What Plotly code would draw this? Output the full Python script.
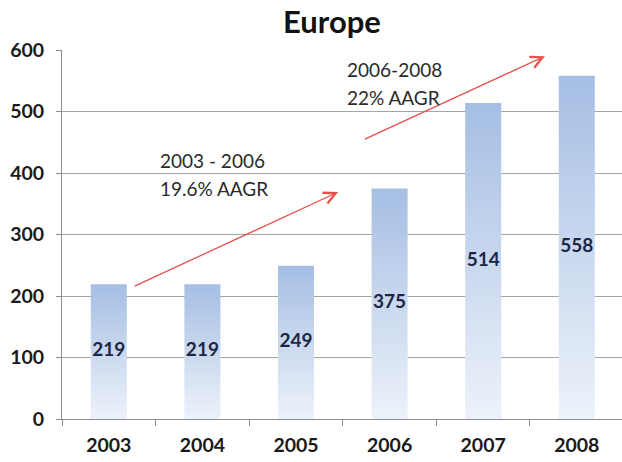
import plotly.graph_objects as go

# Europe: yearly totals
years = ["2003", "2004", "2005", "2006", "2007", "2008"]
values = [219, 219, 249, 375, 514, 558]

# Growth callouts, one line each
growth_lines = [
    ("2003 - 2006", "19.6% AAGR"),
    ("2006-2008", "22% AAGR"),
]

BAR_WIDTH = 0.385
BAR_TOP = "#a5bee3"
BAR_BOTTOM = "#edf2fa"
FONT = "Lato"

fig = go.Figure()

# Gradient-filled columns on the primary x axis
for i, v in enumerate(values):
    x0, x1 = i - BAR_WIDTH / 2, i + BAR_WIDTH / 2
    fig.add_trace(go.Scatter(
        x=[x0, x1, x1, x0, x0],
        y=[0, 0, v, v, 0],
        mode="lines",
        fill="toself",
        line=dict(width=0),
        fillgradient=dict(type="vertical",
                          colorscale=[[0, BAR_BOTTOM], [1, BAR_TOP]]),
        hoverinfo="skip",
        showlegend=False,
    ))

# Value labels centred in each column, on the overlaying axis that carries year labels
fig.add_trace(go.Scatter(
    x=list(range(len(values))),
    y=[v / 2 for v in values],
    mode="text",
    text=[str(v) for v in values],
    textfont=dict(family=FONT, size=19, color="#1c2745", weight="bold"),
    xaxis="x2",
    showlegend=False,
    hoverinfo="skip",
))

x_range = [-0.5, 5.483]
tick_font = dict(family=FONT, size=19.5, color="#1a1a1a", weight="bold")

fig.update_layout(
    width=622,
    height=462,
    margin=dict(l=62, r=0, t=50, b=43),
    paper_bgcolor="white",
    plot_bgcolor="white",
    title=dict(text="<b>Europe</b>", xref="paper", x=0.482, xanchor="center",
               yref="container", y=0.952, yanchor="middle",
               font=dict(family=FONT, size=31, color="#111111")),
    xaxis=dict(
        range=x_range,
        tickvals=[i - 0.5 for i in range(len(years) + 1)],
        showticklabels=False,
        ticks="outside",
        ticklen=6,
        tickcolor="#8c8c8c",
        showgrid=False,
        showline=True,
        linecolor="#8c8c8c",
        linewidth=1,
        zeroline=False,
    ),
    xaxis2=dict(
        overlaying="x",
        side="bottom",
        range=x_range,
        tickvals=list(range(len(years))),
        ticktext=years,
        ticks="",
        showgrid=False,
        showline=False,
        zeroline=False,
        ticklabelstandoff=12,
        tickfont=tick_font,
    ),
    yaxis=dict(
        range=[0, 600],
        dtick=100,
        ticks="outside",
        ticklen=5,
        tickcolor="#8c8c8c",
        showgrid=True,
        gridcolor="#a4a4a4",
        gridwidth=1,
        showline=True,
        linecolor="#8c8c8c",
        zeroline=False,
        ticklabelstandoff=8,
        tickfont=tick_font,
    ),
    font=dict(family=FONT),
)

ARROW = dict(showarrow=True, arrowhead=5, arrowsize=1.8, arrowwidth=1.3,
             arrowcolor="#e8504b", axref="x", ayref="y", xref="x", yref="y", text="")

fig.add_annotation(x=2.45, y=369, ax=0.26, ay=215, **ARROW)
fig.add_annotation(x=4.66, y=590, ax=2.72, ay=454, **ARROW)

TEXT_FONT = dict(family=FONT, size=19, color="#2a2a2a")
callout_pos = [(0.526, 421, 374), (2.52, 569, 522)]
for (line1, line2), (x, y1, y2) in zip(growth_lines, callout_pos):
    for text, y in ((line1, y1), (line2, y2)):
        fig.add_annotation(x=x, y=y, xref="x", yref="y", text=text,
                           showarrow=False, xanchor="left", yanchor="middle",
                           font=TEXT_FONT)

fig.write_html("out.html")
